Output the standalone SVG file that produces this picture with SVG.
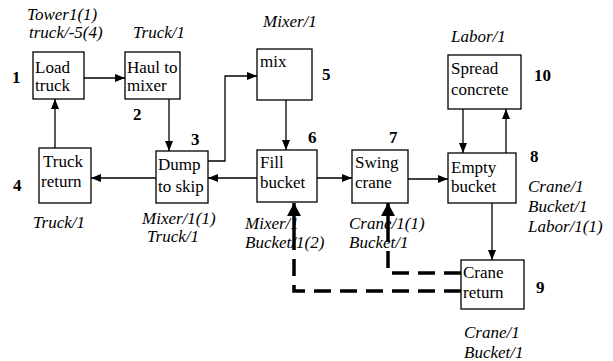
<svg xmlns="http://www.w3.org/2000/svg" width="613" height="361" viewBox="0 0 613 361">
<defs>
<marker id="ah" markerWidth="10" markerHeight="8" refX="10" refY="4" orient="auto" markerUnits="userSpaceOnUse"><path d="M0,0 L10,4 L0,8 Z" fill="#000"/></marker>
<marker id="ahb" markerWidth="13" markerHeight="14" refX="13" refY="7" orient="auto" markerUnits="userSpaceOnUse"><path d="M0,0 L13,7 L0,14 Z" fill="#000"/></marker>
</defs>
<style>
rect{fill:#fff;stroke:#000;stroke-width:1.3}
text{font-size:17px;fill:#000}
.i{font-style:italic}
.n{font-weight:bold}
.c{fill:none;stroke:#000;stroke-width:1.3}
.d{fill:none;stroke:#000;stroke-width:3.5;stroke-dasharray:17,9}
</style>
<rect x="0" y="0" width="613" height="361" style="fill:#fff;stroke:none"/>
<g id="connectors">
<path class="c" d="M84,78 H125" marker-end="url(#ah)"/>
<path class="c" d="M169,99 V151" marker-end="url(#ah)"/>
<path class="c" d="M156,178 H91" marker-end="url(#ah)"/>
<path class="c" d="M55,148 V99" marker-end="url(#ah)"/>
<path class="c" d="M208,161 H225 V76 H257" marker-end="url(#ah)"/>
<path class="c" d="M286,100 V150" marker-end="url(#ah)"/>
<path class="c" d="M257,178 H208" marker-end="url(#ah)"/>
<path class="c" d="M317,178 H352" marker-end="url(#ah)"/>
<path class="c" d="M408,179 H448" marker-end="url(#ah)"/>
<path class="c" d="M463,109 V153" marker-end="url(#ah)"/>
<path class="c" d="M506,153 V109" marker-end="url(#ah)"/>
<path class="c" d="M492,203 V260" marker-end="url(#ah)"/>
<path class="d" d="M461,291 H294 V240"/>
<path d="M294,240 V203" fill="none" stroke="#000" stroke-width="3.5" marker-end="url(#ahb)"/>
<path class="d" d="M461,273 H388 V240"/>
<path d="M388,240 V203" fill="none" stroke="#000" stroke-width="3.5" marker-end="url(#ahb)"/>
</g>
<g font-family="Liberation Serif, Times New Roman, serif">
<g id="n1"><rect x="33" y="52" width="51" height="47"/><text x="35" y="73">Load</text><text x="35" y="91">truck</text><text class="n" x="12" y="83">1</text><text class="i" x="27" y="20">Tower1(1)</text><text class="i" x="29" y="38">truck/-5(4)</text></g>
<g id="n2"><rect x="125" y="52" width="55" height="47"/><text x="127" y="73">Haul to</text><text x="127" y="91">mixer</text><text class="n" x="133" y="120">2</text><text class="i" x="133" y="38">Truck/1</text></g>
<g id="n3"><rect x="156" y="151" width="52" height="52"/><text x="158" y="170">Dump</text><text x="158" y="192">to skip</text><text class="n" x="191" y="145">3</text><text class="i" x="142" y="224">Mixer/1(1)</text><text class="i" x="147" y="242">Truck/1</text></g>
<g id="n4"><rect x="39" y="148" width="52" height="55"/><text x="43" y="167">Truck</text><text x="41" y="187">return</text><text class="n" x="13" y="191">4</text><text class="i" x="33" y="228">Truck/1</text></g>
<g id="n5"><rect x="257" y="49" width="55" height="51"/><text x="260" y="67">mix</text><text class="n" x="322" y="80">5</text><text class="i" x="263" y="27">Mixer/1</text></g>
<g id="n6"><rect x="257" y="150" width="60" height="52"/><text x="260" y="168">Fill</text><text x="260" y="188">bucket</text><text class="n" x="308" y="143">6</text><text class="i" x="245" y="229">Mixer/1</text><text class="i" x="245" y="248">Bucket/1(2)</text></g>
<g id="n7"><rect x="352" y="150" width="56" height="53"/><text x="355" y="168">Swing</text><text x="355" y="188">crane</text><text class="n" x="389" y="143">7</text><text class="i" x="349" y="229">Crane/1(1)</text><text class="i" x="349" y="248">Bucket/1</text></g>
<g id="n8"><rect x="448" y="153" width="68" height="50"/><text x="451" y="173">Empty</text><text x="451" y="192">bucket</text><text class="n" x="530" y="162">8</text><text class="i" x="528" y="192">Crane/1</text><text class="i" x="528" y="212">Bucket/1</text><text class="i" x="528" y="232">Labor/1(1)</text></g>
<g id="n9"><rect x="461" y="260" width="63" height="49"/><text x="463" y="278">Crane</text><text x="463" y="298">return</text><text class="n" x="536" y="293">9</text><text class="i" x="464" y="338">Crane/1</text><text class="i" x="464" y="358">Bucket/1</text></g>
<g id="n10"><rect x="448" y="55" width="73" height="54"/><text x="451" y="74">Spread</text><text x="451" y="95">concrete</text><text class="n" x="534" y="81">10</text><text class="i" x="451" y="42">Labor/1</text></g>
</g>
</svg>
